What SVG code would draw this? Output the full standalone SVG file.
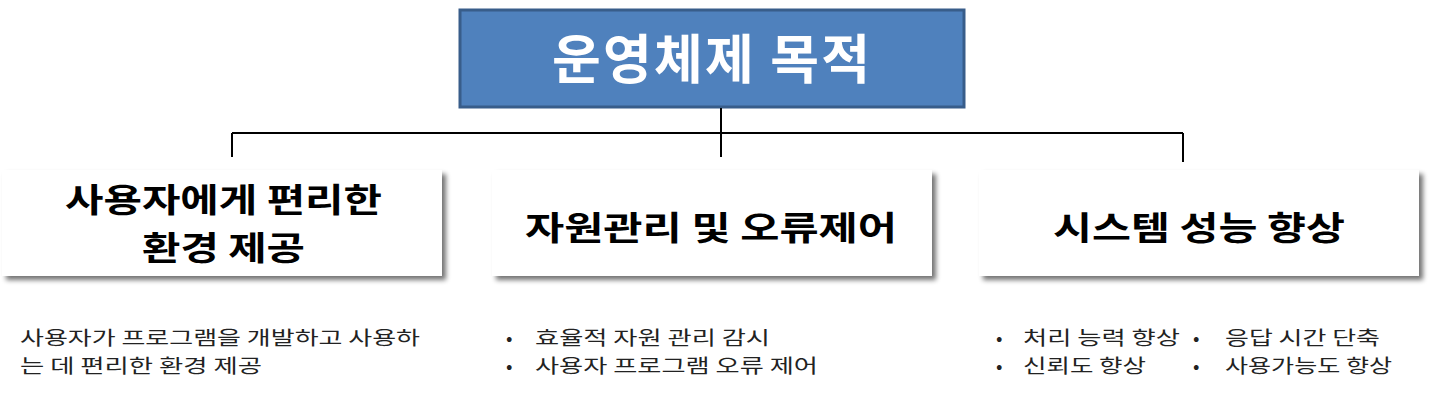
<svg xmlns="http://www.w3.org/2000/svg" width="1440" height="405" viewBox="0 0 1440 405">
<defs>
<filter id="sh" x="-5%" y="-10%" width="112%" height="130%">
<feGaussianBlur in="SourceAlpha" stdDeviation="2.5"/>
<feOffset dx="4" dy="4" result="b"/>
<feComponentTransfer><feFuncA type="linear" slope="0.55"/></feComponentTransfer>
<feMerge><feMergeNode/><feMergeNode in="SourceGraphic"/></feMerge>
</filter>
</defs>
<style>
.t{font-family:"Noto Sans CJK KR","Noto Sans",sans-serif;}
.h{font-size:33px;font-weight:bold;fill:#000;}
.b{font-size:19px;fill:#222;}
.c{stroke:#000;stroke-width:2;fill:none;}
</style>
<rect width="1440" height="405" fill="#fff"/>
<g id="root">
<rect x="460" y="10" width="504" height="97" fill="#4F81BD" stroke="#385D8A" stroke-width="3"/>
<text class="t" x="552" y="79" font-size="53" font-weight="bold" fill="#fff" textLength="318">운영체제 목적</text>
</g>
<g id="connectors">
<path class="c" d="M721 108V157M232 133H1183M232 133V157M1183 133V162"/>
</g>
<g id="n1">
<rect x="2" y="170" width="440" height="106" fill="#fff" filter="url(#sh)"/>
<text class="t h"><tspan x="65" y="212" textLength="317" lengthAdjust="spacingAndGlyphs">사용자에게 편리한</tspan><tspan x="142" y="260" textLength="163" lengthAdjust="spacingAndGlyphs">환경 제공</tspan></text>
</g>
<g id="n2">
<rect x="492" y="170" width="440" height="106" fill="#fff" filter="url(#sh)"/>
<text class="t h" x="525" y="240" textLength="372" lengthAdjust="spacingAndGlyphs">자원관리 및 오류제어</text>
</g>
<g id="n3">
<rect x="979" y="170" width="440" height="106" fill="#fff" filter="url(#sh)"/>
<text class="t h" x="1053" y="240" textLength="292" lengthAdjust="spacingAndGlyphs">시스템 성능 향상</text>
</g>
<g id="d1">
<text class="t b"><tspan x="20" y="345" textLength="400" lengthAdjust="spacingAndGlyphs">사용자가 프로그램을 개발하고 사용하</tspan><tspan x="20" y="373" textLength="242" lengthAdjust="spacingAndGlyphs">는 데 편리한 환경 제공</tspan></text>
</g>
<g id="d2">
<text class="t b"><tspan x="506" y="345">•</tspan><tspan x="535" y="345" textLength="235" lengthAdjust="spacingAndGlyphs">효율적 자원 관리 감시</tspan><tspan x="506" y="373">•</tspan><tspan x="535" y="373" textLength="283" lengthAdjust="spacingAndGlyphs">사용자 프로그램 오류 제어</tspan></text>
</g>
<g id="d3">
<text class="t b"><tspan x="996" y="345">•</tspan><tspan x="1023" y="345" textLength="157" lengthAdjust="spacingAndGlyphs">처리 능력 향상</tspan><tspan x="1193" y="345">•</tspan><tspan x="1225" y="345" textLength="155" lengthAdjust="spacingAndGlyphs">응답 시간 단축</tspan><tspan x="996" y="373">•</tspan><tspan x="1023" y="373" textLength="123" lengthAdjust="spacingAndGlyphs">신뢰도 향상</tspan><tspan x="1193" y="373">•</tspan><tspan x="1225" y="373" textLength="167" lengthAdjust="spacingAndGlyphs">사용가능도 향상</tspan></text>
</g>
</svg>
